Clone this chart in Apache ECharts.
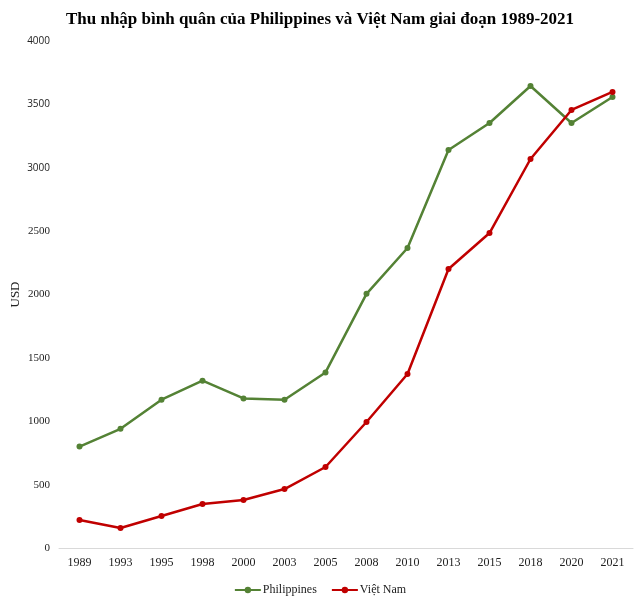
<!DOCTYPE html>
<html><head><meta charset="utf-8">
<script src="https://cdn.jsdelivr.net/npm/echarts@6/dist/echarts.min.js"></script>
<style>html,body{margin:0;padding:0;background:#fff}#c{width:640px;height:597px}</style>
</head><body><div id="c"></div>
<script>
const years = ['1989','1993','1995','1998','2000','2003','2005','2008','2010','2013','2015','2018','2020','2021'];
const philippines = [800, 940, 1170, 1320, 1180, 1170, 1385, 2005, 2367, 3140, 3353, 3645, 3353, 3558];
const vietnam = [221, 158, 252, 347, 379, 465, 639, 994, 1373, 2201, 2485, 3069, 3456, 3598];
const seriesNames = ['Philippines', 'Việt Nam'];
const titleText = 'Thu nhập bình quân của Philippines và Việt Nam giai đoạn 1989-2021';
const yAxisName = 'USD';

const serif = '"Liberation Serif", "Times New Roman", serif';
const chart = echarts.init(document.getElementById('c'), null, {renderer: 'canvas'});
chart.setOption({
  animation: false,
  backgroundColor: '#fff',
  title: {
    text: titleText, left: 'center', top: 6,
    textStyle: {fontFamily: serif, fontSize: 17, fontWeight: 'bold', color: '#000'}
  },
  legend: {
    top: 579, left: 'center', itemWidth: 26, itemHeight: 8, itemGap: 14,
    textStyle: {fontFamily: serif, fontSize: 12, color: '#222', padding: [0, 0, 0, -3]},
    data: seriesNames
  },
  grid: {left: 59, right: 7, top: 41, bottom: 49, outerBoundsMode: 'none', containLabel: false},
  xAxis: {
    type: 'category', data: years, boundaryGap: true,
    axisLine: {lineStyle: {color: '#d9d9d9', width: 1}},
    axisTick: {show: false},
    axisLabel: {fontFamily: serif, fontSize: 12, color: '#222', margin: 9}
  },
  yAxis: {
    type: 'value', min: 0, max: 4000, interval: 500,
    name: yAxisName, nameLocation: 'middle', nameGap: 37, nameRotate: 90, nameMoveOverlap: false,
    nameTextStyle: {fontFamily: serif, fontSize: 13, color: '#222'},
    axisLine: {show: false}, axisTick: {show: false},
    splitLine: {show: false},
    axisLabel: {
      fontFamily: serif, fontSize: 11, color: '#222', margin: 9,
      formatter: v => v >= 3000 ? '{s|' + v + '}' : '' + v,
      rich: {s: {fontFamily: '"Open Sans", "Liberation Sans", sans-serif', fontSize: 10, color: '#222'}}
    }
  },
  series: [
    {name: seriesNames[0], type: 'line', data: philippines, symbol: 'circle', symbolSize: 6,
     lineStyle: {color: '#548235', width: 2.5}, itemStyle: {color: '#548235'}},
    {name: seriesNames[1], type: 'line', data: vietnam, symbol: 'circle', symbolSize: 6,
     lineStyle: {color: '#C00000', width: 2.5}, itemStyle: {color: '#C00000'}}
  ]
});
</script></body></html>
